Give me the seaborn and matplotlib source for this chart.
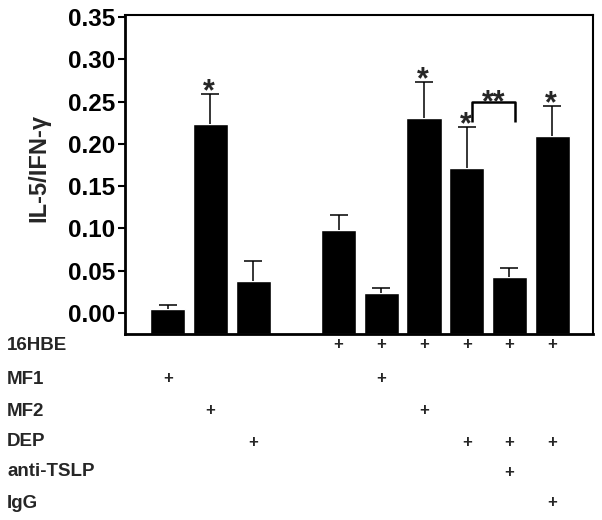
import numpy as np
import pandas as pd
import matplotlib
matplotlib.use("Agg")
import matplotlib.pyplot as plt
import matplotlib.transforms as mtransforms
import seaborn as sns

# bar data (slot 3 is an empty gap in the original figure)
slots = [0, 1, 2, 4, 5, 6, 7, 8, 9]
ratio = [0.005, 0.223, 0.038, 0.098, 0.024, 0.231, 0.172, 0.043, 0.209]
sem = [0.0045, 0.036, 0.0235, 0.018, 0.006, 0.0425, 0.048, 0.010, 0.036]
stars = ["", "*", "", "", "", "*", "*", "", "*"]

yticks = [0.00, 0.05, 0.10, 0.15, 0.20, 0.25, 0.30, 0.35]

# treatment table under the plot
rows = ["16HBE", "MF1", "MF2", "DEP", "anti-TSLP", "IgG"]
plus = {
    "16HBE": [4, 5, 6, 7, 8, 9],
    "MF1": [0, 5],
    "MF2": [1, 6],
    "DEP": [2, 7, 8, 9],
    "anti-TSLP": [8],
    "IgG": [9],
}
row_px = [345, 379, 411, 442, 472, 503]

sns.set_style("ticks")
plt.rcParams['font.family'] = ['Liberation Sans', 'DejaVu Sans']
plt.rcParams['font.weight'] = 'bold'

fig = plt.figure(figsize=(6.02, 5.20), dpi=100)
ax = fig.add_axes([0.2076, 0.3577, 0.7770, 0.6135])
ymin, ymax = -0.025, 0.3525

df = pd.DataFrame({"slot": slots, "ratio": ratio})
sns.barplot(data=df, x="slot", y="ratio", native_scale=True, orient="x",
            color="black", width=0.82, errorbar=None, saturation=1, ax=ax)
# bars in the original start at the bottom of the frame, not at zero
for p in ax.patches:
    top = p.get_y() + p.get_height()
    p.set_y(ymin)
    p.set_height(top - ymin)

eb = ax.errorbar(slots, ratio, yerr=[np.zeros(len(sem)), sem], fmt="none",
                 ecolor="black", elinewidth=1.1, capsize=6.5, capthick=1.1)
# keep only the upper caps
eb[1][0].remove()

# significance stars
for s, m, e, t in zip(slots, ratio, sem, stars):
    if t:
        ax.annotate(t, xy=(s, m + e), xytext=(-1, -4.5), textcoords="offset points",
                    ha="center", va="baseline", fontsize=22, fontweight="bold")

# bracket between DEP and DEP + anti-TSLP
bx0, bx1 = slots[6] + 0.13, slots[7] + 0.14
ax.plot([bx0, bx0, bx1, bx1], [0.226, 0.249, 0.249, 0.226], color="black",
        lw=1.8, solid_joinstyle="round", solid_capstyle="butt")
ax.annotate("**", xy=((bx0 + bx1) / 2, 0.249), xytext=(0, -6),
            textcoords="offset points", ha="center", va="baseline",
            fontsize=22, fontweight="bold")

ax.set_xlim(-1.0, 9.95)
ax.set_ylim(ymin, ymax)
ax.set_yticks(yticks)
ax.set_yticklabels([f"{v:.2f}" for v in yticks])
ax.set_xticks([])
ax.set_xlabel("")
ax.set_ylabel("IL-5/IFN-γ", fontsize=17, fontweight="bold")
ax.yaxis.set_label_coords(-0.16, 0.52)
ax.tick_params(axis="y", direction="out", length=5, width=1.5,
               labelsize=17.5, pad=2, colors="black")
for lab in ax.get_yticklabels():
    lab.set_fontweight("bold")
for side in ["left", "bottom"]:
    ax.spines[side].set_linewidth(2)
for side in ["top", "right"]:
    ax.spines[side].set_visible(True)
    ax.spines[side].set_linewidth(1.5)
for sp in ax.spines.values():
    sp.set_color("black")

trans = mtransforms.blended_transform_factory(ax.transData, fig.transFigure)
for name, ypx in zip(rows, row_px):
    yf = 1 - ypx / 520
    fig.text(0.012, yf, name, fontsize=13.5, fontweight="bold",
             ha="left", va="center")
    for s in plus[name]:
        ax.text(s, yf, "+", transform=trans, fontsize=12, fontweight="bold",
                ha="center", va="center", clip_on=False)

fig.savefig("out.png", dpi=100)
